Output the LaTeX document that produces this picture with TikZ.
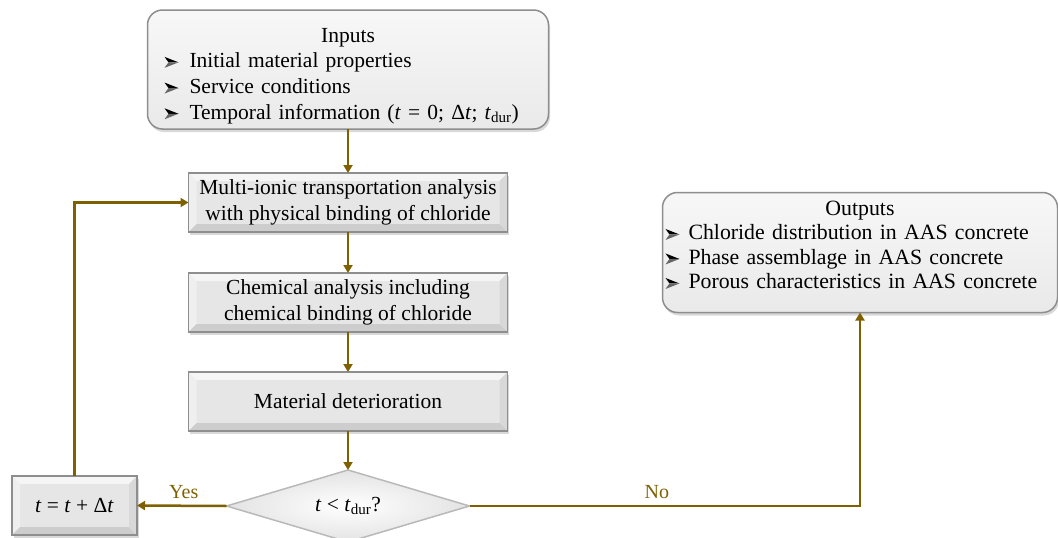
\documentclass[tikz,border=0pt]{standalone}
\usepackage{fontspec}
\setmainfont{Liberation Serif}
\usetikzlibrary{arrows.meta,shapes.geometric,shadows}
\definecolor{arrowc}{HTML}{7F6000}
\definecolor{boxedge}{HTML}{8E8E8E}
\definecolor{boxface}{HTML}{E6E6E6}
\definecolor{bvtop}{HTML}{F5F5F5}
\definecolor{bvleft}{HTML}{EFEFEF}
\definecolor{bvbot}{HTML}{CDCDCD}
\definecolor{bvright}{HTML}{D8D8D8}
\newcommand\arwbul[1]{\makebox[#1][l]{\tikz[x=1pt,y=1pt,baseline=0pt,sharp corners]{%
  \fill[black,sharp corners] (0,11) -- (14,5.5) -- (4,5.5) -- cycle;
  \fill[black!60,sharp corners] (0,0) -- (14,5.5) -- (4,5.5) -- cycle;}}}
\tikzset{
  conn/.style={draw=arrowc, line width=2.5pt, -{Triangle[length=8pt,width=9pt]}},
  lbl/.style={text=arrowc, font=\fontsize{20}{22}\selectfont, inner sep=6pt},
  bevelbox/.style={rectangle, draw=boxedge, line width=1.5pt, fill=boxface,
    minimum width=319pt, minimum height=59pt, inner sep=0pt, outer sep=0pt, align=center,
    drop shadow={shadow xshift=1.5pt, shadow yshift=-2.5pt, opacity=0.3},
    path picture={
      \fill[bvtop] (path picture bounding box.north west) -- (path picture bounding box.north east)
        -- ([xshift=-8pt,yshift=-8pt]path picture bounding box.north east)
        -- ([xshift=8pt,yshift=-8pt]path picture bounding box.north west) -- cycle;
      \fill[bvleft] (path picture bounding box.north west) -- (path picture bounding box.south west)
        -- ([xshift=8pt,yshift=8pt]path picture bounding box.south west)
        -- ([xshift=8pt,yshift=-8pt]path picture bounding box.north west) -- cycle;
      \fill[bvbot] (path picture bounding box.south west) -- (path picture bounding box.south east)
        -- ([xshift=-8pt,yshift=8pt]path picture bounding box.south east)
        -- ([xshift=8pt,yshift=8pt]path picture bounding box.south west) -- cycle;
      \fill[bvright] (path picture bounding box.north east) -- (path picture bounding box.south east)
        -- ([xshift=-8pt,yshift=8pt]path picture bounding box.south east)
        -- ([xshift=-8pt,yshift=-8pt]path picture bounding box.north east) -- cycle;
    }},
  roundbox/.style={rectangle, rounded corners=15pt, draw=boxedge, line width=1.5pt,
    top color=gray!6, bottom color=gray!17, outer sep=0pt, align=left,
    drop shadow={shadow xshift=1.5pt, shadow yshift=-3pt, opacity=0.3}},
  decision/.style={diamond, draw=gray!55, line width=1.5pt, inner sep=0pt, outer sep=0pt,
    minimum width=243pt, minimum height=72pt, aspect=3.375,
    shading=radial, inner color=white, outer color=gray!22}
}
\begin{document}
\begin{tikzpicture}[x=1pt, y=-1pt, font=\fontsize{21.5}{25.7}\selectfont]
\useasboundingbox (0,0) rectangle (1058,538);

\node[roundbox, minimum width=401pt, minimum height=119pt, text width=367pt, inner xsep=17pt] (inputs) at (348,69.5)
  {\makebox[\linewidth][c]{\rule{0pt}{27pt}Inputs}\\
   \arwbul{25pt}Initial material properties\\
   \arwbul{25pt}Service conditions\\
   \arwbul{25pt}Temporal information (\textit{t} = 0; Δ\textit{t}; \textit{t}\textsubscript{dur})};

\node[bevelbox] (multi) at (348,202.5) {Multi-ionic transportation analysis\\with physical binding of chloride};
\node[bevelbox] (chem) at (348,302.5) {Chemical analysis including\\chemical binding of chloride};
\node[bevelbox] (mat) at (348,401.5) {Material deterioration};
\node[decision] (dia) at (348,506) {\textit{t} {<} \textit{t}\textsubscript{dur}?};
\node[bevelbox, minimum width=125pt] (tbox) at (74.5,505.5) {\textit{t} = \textit{t} + Δ\textit{t}};

\node[roundbox, minimum width=395pt, minimum height=120pt, text width=389pt, inner xsep=3pt,
      font=\fontsize{21.8}{24.5}\selectfont] (outputs) at (860,252.5)
  {\makebox[\linewidth][c]{Outputs}\\
   \arwbul{23pt}Chloride distribution in AAS concrete\\
   \arwbul{23pt}Phase assemblage in AAS concrete\\
   \arwbul{23pt}Porous characteristics in AAS concrete\rule[-15pt]{0pt}{1pt}};

\draw[conn] (inputs.south) -- (multi.north);
\draw[conn] (multi.south) -- (chem.north);
\draw[conn] (chem.south) -- (mat.north);
\draw[conn] (mat.south) -- (dia.north);
\draw[conn] (dia.west) -- node[lbl, above, xshift=2pt] (yes) {Yes} (tbox.east);
\draw[conn] (tbox.north) |- (multi.west);
\draw[conn] (dia.east) -| node[lbl, above, pos=0.24] (no) {No} (outputs.south);
\end{tikzpicture}
\end{document}
